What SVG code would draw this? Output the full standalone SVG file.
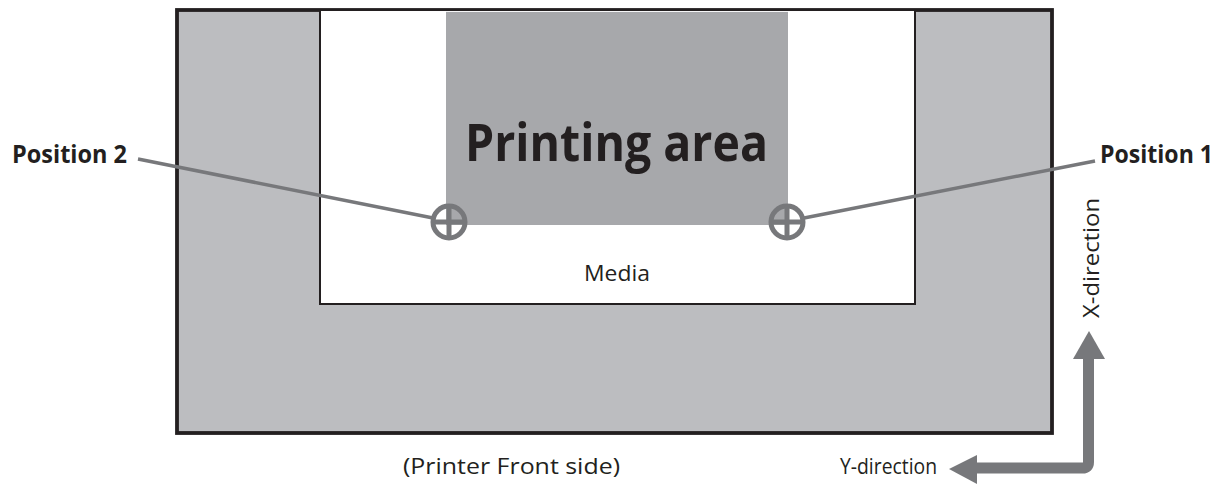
<svg xmlns="http://www.w3.org/2000/svg" width="1223" height="490" viewBox="0 0 1223 490">
<style>
.lbl{font-family:"Open Sans","Liberation Sans",sans-serif;fill:#231f20}
.b{font-weight:bold}
.conn{stroke:#77787b;fill:none}
</style>
<rect width="1223" height="490" fill="#fff"/>
<g id="printer">
<rect x="177" y="10" width="875" height="423" fill="#bcbdc0" stroke="#231f20" stroke-width="3.8"/>
</g>
<g id="media">
<rect x="320" y="10" width="595" height="294" fill="#fff" stroke="#231f20" stroke-width="2"/>
<text class="lbl" x="617" y="281" font-size="22" text-anchor="middle" textLength="66" lengthAdjust="spacingAndGlyphs">Media</text>
</g>
<g id="printing-area">
<rect x="446" y="11.9" width="342" height="213.1" fill="#a7a8ab"/>
<text class="lbl b" x="465" y="161" font-size="52" textLength="303" lengthAdjust="spacingAndGlyphs">Printing area</text>
</g>
<g id="connectors">
<line class="conn" x1="138" y1="159" x2="433" y2="218" stroke-width="3.5"/>
<line class="conn" x1="804" y1="218" x2="1095" y2="161" stroke-width="3.5"/>
<path class="conn" d="M1088.5 356 V462 Q1088.5 468 1082.5 468 H975" stroke-width="11" stroke-linejoin="round"/>
<polygon points="1089,331 1105,359 1073,359" fill="#77787b"/>
<polygon points="949,469 977,455 977,484" fill="#77787b"/>
</g>
<g id="position-2">
<circle cx="449" cy="222" r="16" fill="none" stroke="#77787b" stroke-width="5"/>
<path d="M433 222 H465 M449 206 V238" stroke="#77787b" stroke-width="5"/>
<text class="lbl b" x="12" y="163" font-size="25" textLength="115" lengthAdjust="spacingAndGlyphs">Position 2</text>
</g>
<g id="position-1">
<circle cx="787" cy="222" r="16" fill="none" stroke="#77787b" stroke-width="5"/>
<path d="M771 222 H803 M787 206 V238" stroke="#77787b" stroke-width="5"/>
<text class="lbl b" x="1100" y="163" font-size="25" textLength="113" lengthAdjust="spacingAndGlyphs">Position 1</text>
</g>
<g id="x-direction">
<text class="lbl" transform="translate(1099 318) rotate(-90)" font-size="22" textLength="120" lengthAdjust="spacingAndGlyphs">X-direction</text>
</g>
<g id="y-direction">
<text class="lbl" x="840" y="474" font-size="22" textLength="97" lengthAdjust="spacingAndGlyphs">Y-direction</text>
</g>
<g id="front-side">
<text class="lbl" x="403" y="474" font-size="22" textLength="217" lengthAdjust="spacingAndGlyphs">(Printer Front side)</text>
</g>
</svg>
